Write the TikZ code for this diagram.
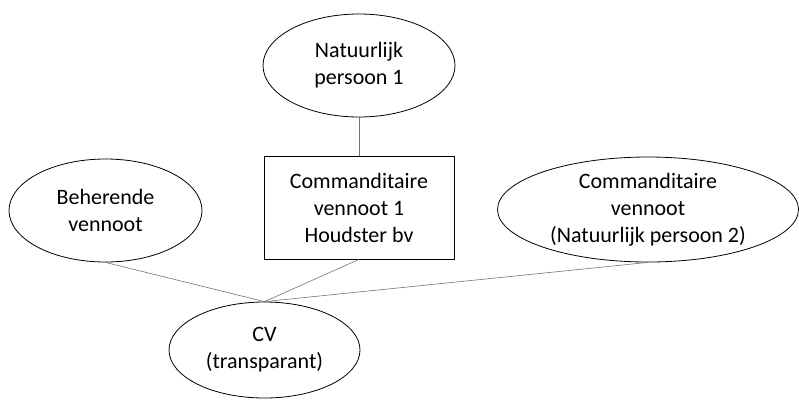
\documentclass[tikz,border=0pt]{standalone}
\usepackage{fontspec}
\setmainfont{Carlito}
\usepackage{tikz}
\usetikzlibrary{shapes.geometric, positioning}

\begin{document}
\begin{tikzpicture}[
        x=1pt, y=-1pt,
        party/.style={ellipse, draw=black, line width=0.8pt, fill=white, inner sep=0pt, align=center, font=\fontsize{22}{27}\selectfont},
        holding/.style={rectangle, draw=black, line width=0.8pt, fill=white, inner sep=0pt, align=center, font=\fontsize{22}{27}\selectfont},
        link/.style={draw=black!55, line width=0.6pt}
    ]
    \useasboundingbox (0,0) rectangle (799,400);

    % Nodes
    \node[party, minimum width=192pt, minimum height=103pt] (person) at (359,65.5) {Natuurlijk\\persoon 1};
    \node[holding, minimum width=190pt, minimum height=103pt] (bv) at (359,207.5) {Commanditaire\\vennoot 1\\Houdster bv};
    \node[party, minimum width=193pt, minimum height=103pt] (beherend) at (105.5,210.5) {Beherende\\vennoot};
    \node[party, minimum width=301pt, minimum height=105pt] (comm) at (648,209.5) {Commanditaire\\vennoot\\(Natuurlijk persoon 2)};
    \node[party, minimum width=191pt, minimum height=96pt] (cv) at (264.5,350) {CV\\(transparant)};

    % Edges
    \draw[link] (person) -- (bv);
    \draw[link] (beherend.south) -- (cv.north);
    \draw[link] (bv.south) -- (cv.north);
    \draw[link] (comm.south) -- (cv.north);

\end{tikzpicture}
\end{document}
